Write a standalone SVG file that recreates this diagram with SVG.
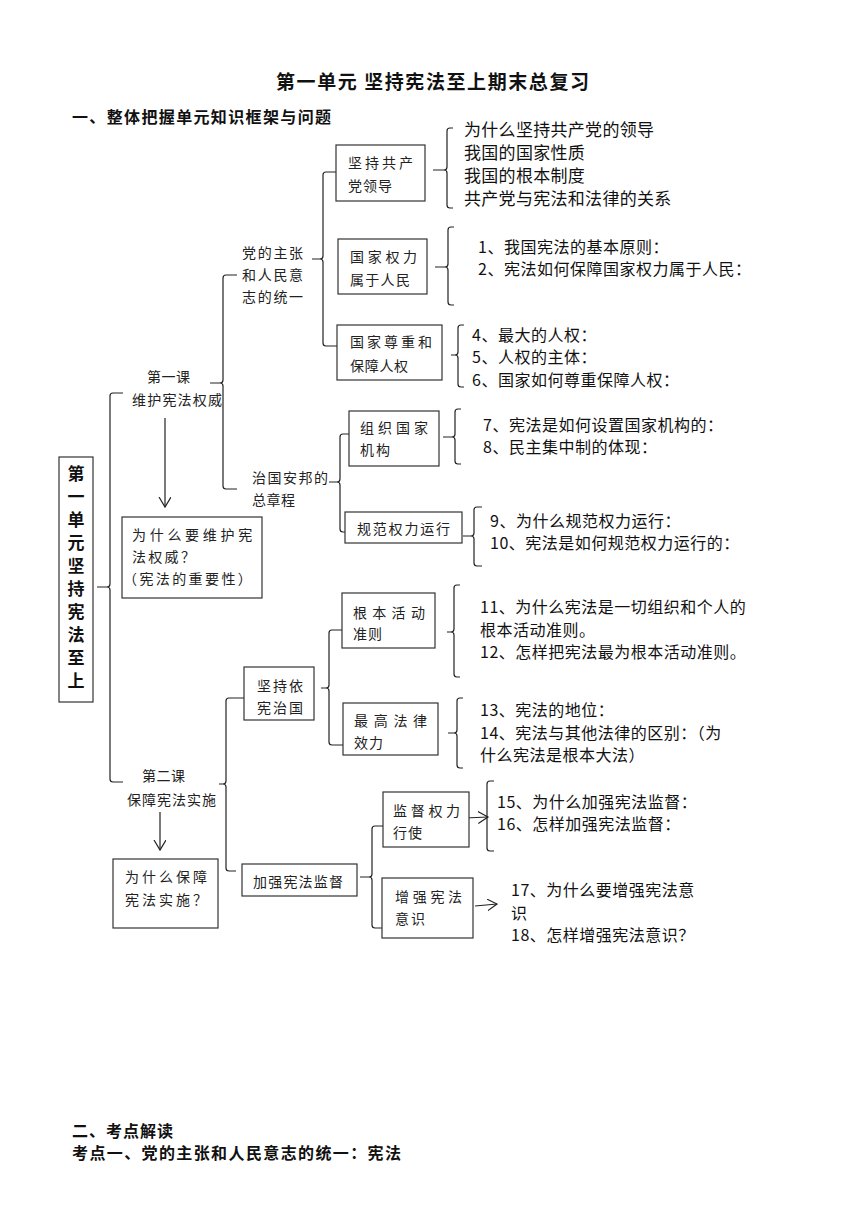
<svg xmlns="http://www.w3.org/2000/svg" width="860" height="1216" viewBox="0 0 860 1216">
<defs>
<style>
text{font-family:"Noto Sans CJK SC","Noto Sans",sans-serif;fill:#111;}
.h{font-weight:bold;font-size:16px;}
.t{font-weight:bold;font-size:19px;}
.v{font-weight:bold;font-size:17px;}
.b{font-size:14px;fill:#222;}
.l{font-size:16px;letter-spacing:0.5px;}
.l17{font-size:17px;}
.box{fill:#fff;stroke:#333;stroke-width:1.2;}
.br{fill:none;stroke:#222;stroke-width:1.2;}
.ar{fill:none;stroke:#222;stroke-width:1.2;}
</style>
<marker id="arr" markerUnits="userSpaceOnUse" markerWidth="14" markerHeight="14" refX="10" refY="6" orient="auto">
<path d="M0,0 L10,6 L0,12" fill="none" stroke="#222" stroke-width="1.2"/>
</marker>
</defs>
<rect width="860" height="1216" fill="#fff"/>

<text class="t" x="276" y="89" textLength="313">第一单元 坚持宪法至上期末总复习</text>
<text class="h" x="72" y="123" textLength="259">一、整体把握单元知识框架与问题</text>

<g id="connectors">
<path class="br" d="M123,393 H113 Q110,393 110,396 V584 Q110,587 107,587 H97 M107,587 Q110,587 110,590 V779 Q110,782 113,782 H123"/>
<path class="br" d="M237,275 H226 Q223,275 223,278 V380 Q223,383 220,383 H210 M220,383 Q223,383 223,386 V486 Q223,489 226,489 H237"/>
<path class="br" d="M336,172 H326 Q323,172 323,175 V256 Q323,259 320,259 H312 M320,259 Q323,259 323,262 V343 Q323,346 326,346 H337"/>
<path class="br" d="M349,434 H343 Q340,434 340,437 V479 Q340,482 337,482 H329 M337,482 Q340,482 340,485 V529 Q340,532 343,532 H345"/>
<path class="br" d="M244,698 H229 Q226,698 226,701 V781 Q226,784 223,784 H219 M223,784 Q226,784 226,787 V868 Q226,871 229,871 H236"/>
<path class="br" d="M342,630 H332 Q329,630 329,633 V685 Q329,688 326,688 H321 M326,688 Q329,688 329,691 V742 Q329,745 332,745 H343"/>
<path class="br" d="M383,826 H375 Q372,826 372,829 V874 Q372,877 369,877 H360 M369,877 Q372,877 372,880 V925 Q372,928 375,928 H382"/>
<path class="br" d="M453,128 H450 Q447,128 447,131 V167 Q447,170 444,170 H433 M444,170 Q447,170 447,173 V205 Q447,208 450,208 H453"/>
<path class="br" d="M454,227 H451 Q448,227 448,230 V264 Q448,267 445,267 H435 M445,267 Q448,267 448,270 V302 Q448,305 451,305 H454"/>
<path class="br" d="M464,325 H461 Q458,325 458,328 V352 Q458,355 455,355 H451 M455,355 Q458,355 458,358 V384 Q458,387 461,387 H464"/>
<path class="br" d="M461,409 H458 Q455,409 455,412 V434 Q455,437 452,437 H443 M452,437 Q455,437 455,440 V461 Q455,464 458,464 H461"/>
<path class="br" d="M482,507 H477 Q474,507 474,510 V533 Q474,536 471,536 H463 M471,536 Q474,536 474,539 V563 Q474,566 477,566 H482"/>
<path class="br" d="M460,585 H457 Q454,585 454,588 V629 Q454,632 451,632 H447 M451,632 Q454,632 454,635 V674 Q454,677 457,677 H460"/>
<path class="br" d="M463,698 H460 Q457,698 457,701 V730 Q457,733 454,733 H448 M454,733 Q457,733 457,736 V765 Q457,768 460,768 H463"/>
<path class="br" d="M494,781 H490 Q487,781 487,784 V848 Q487,851 490,851 H494"/>
<line class="ar" x1="165" y1="418" x2="165" y2="507" marker-end="url(#arr)"/>
<line class="ar" x1="160" y1="812" x2="160" y2="850" marker-end="url(#arr)"/>
<line class="ar" x1="465" y1="818" x2="488" y2="817" marker-end="url(#arr)"/>
<line class="ar" x1="475" y1="906" x2="497" y2="904" marker-end="url(#arr)"/>
</g>

<g id="n-main">
<rect class="box" x="59" y="457" width="34" height="245"/>
<text class="v" text-anchor="middle"><tspan x="76" y="480">第</tspan><tspan x="76" y="503">一</tspan><tspan x="76" y="526">单</tspan><tspan x="76" y="549">元</tspan><tspan x="76" y="572">坚</tspan><tspan x="76" y="595">持</tspan><tspan x="76" y="618">宪</tspan><tspan x="76" y="641">法</tspan><tspan x="76" y="664">至</tspan><tspan x="76" y="687">上</tspan></text>
</g>

<g id="n-lesson1">
<text class="b" x="147" y="382" letter-spacing="0.5">第一课</text>
<text class="b" x="132" y="405" letter-spacing="1.2">维护宪法权威</text>
</g>
<g id="n-why1">
<rect class="box" x="122" y="517" width="140" height="81"/>
<text class="b" x="132" y="540" letter-spacing="3.7">为什么要维护宪</text>
<text class="b" x="132" y="562" letter-spacing="2.3">法权威？</text>
<text class="b" x="123" y="584" letter-spacing="2.4">（宪法的重要性）</text>
</g>
<g id="n-dzz">
<text class="b" x="242" y="258" letter-spacing="1.7">党的主张</text>
<text class="b" x="242" y="280" letter-spacing="1.7">和人民意</text>
<text class="b" x="242" y="302" letter-spacing="1.7">志的统一</text>
</g>
<g id="n-zgab">
<text class="b" x="252" y="483" letter-spacing="1.5">治国安邦的</text>
<text class="b" x="252" y="505" letter-spacing="0.5">总章程</text>
</g>
<g id="n-jcgcd">
<rect class="box" x="336" y="145" width="89" height="56"/>
<text class="b" x="348" y="168" letter-spacing="3">坚持共产</text>
<text class="b" x="348" y="191" letter-spacing="1">党领导</text>
</g>
<g id="n-gjql">
<rect class="box" x="338" y="239" width="89" height="55"/>
<text class="b" x="350" y="262" letter-spacing="3.7">国家权力</text>
<text class="b" x="350" y="285" letter-spacing="1.3">属于人民</text>
</g>
<g id="n-gjzz">
<rect class="box" x="337" y="325" width="105" height="55"/>
<text class="b" x="350" y="347" letter-spacing="3">国家尊重和</text>
<text class="b" x="350" y="371" letter-spacing="0.7">保障人权</text>
</g>
<g id="n-zzgj">
<rect class="box" x="349" y="411" width="90" height="55"/>
<text class="b" x="360" y="433" letter-spacing="4">组织国家</text>
<text class="b" x="360" y="455" letter-spacing="2">机构</text>
</g>
<g id="n-gfql">
<rect class="box" x="345" y="512" width="117" height="31"/>
<text class="b" x="357" y="534" letter-spacing="1.8">规范权力运行</text>
</g>
<g id="n-list1">
<text class="l17" x="464" y="136" letter-spacing="0.3">为什么坚持共产党的领导</text>
<text class="l17" x="464" y="159" letter-spacing="0.3">我国的国家性质</text>
<text class="l17" x="464" y="182" letter-spacing="0.3">我国的根本制度</text>
<text class="l17" x="464" y="205" letter-spacing="0.3">共产党与宪法和法律的关系</text>
</g>
<g id="n-list2">
<text class="l" x="478" y="253">1、我国宪法的基本原则：</text>
<text class="l" x="478" y="275">2、宪法如何保障国家权力属于人民：</text>
</g>
<g id="n-list3">
<text class="l" x="472" y="341">4、最大的人权：</text>
<text class="l" x="472" y="363">5、人权的主体：</text>
<text class="l" x="472" y="386">6、国家如何尊重保障人权：</text>
</g>
<g id="n-list4">
<text class="l" x="483" y="431">7、宪法是如何设置国家机构的：</text>
<text class="l" x="483" y="453">8、民主集中制的体现：</text>
</g>
<g id="n-list5">
<text class="l" x="490" y="527">9、为什么规范权力运行：</text>
<text class="l" x="490" y="549" letter-spacing="1.3">10、宪法是如何规范权力运行的：</text>
</g>

<g id="n-lesson2">
<text class="b" x="142" y="781" letter-spacing="0.5">第二课</text>
<text class="b" x="127" y="805" letter-spacing="1">保障宪法实施</text>
</g>
<g id="n-why2">
<rect class="box" x="113" y="859" width="105" height="69"/>
<text class="b" x="125" y="882" letter-spacing="3">为什么保障</text>
<text class="b" x="125" y="905" letter-spacing="3">宪法实施？</text>
</g>
<g id="n-jcyx">
<rect class="box" x="244" y="667" width="70" height="53"/>
<text class="b" x="257" y="691" letter-spacing="2">坚持依</text>
<text class="b" x="257" y="713" letter-spacing="2">宪治国</text>
</g>
<g id="n-jqjd">
<rect class="box" x="242" y="864" width="115" height="32"/>
<text class="b" x="253" y="887" letter-spacing="1.2">加强宪法监督</text>
</g>
<g id="n-gbhd">
<rect class="box" x="342" y="593" width="93" height="55"/>
<text class="b" x="353" y="618" letter-spacing="5.3">根本活动</text>
<text class="b" x="353" y="639" letter-spacing="1">准则</text>
</g>
<g id="n-zgfl">
<rect class="box" x="343" y="703" width="95" height="52"/>
<text class="b" x="354" y="726" letter-spacing="5.7">最高法律</text>
<text class="b" x="354" y="748" letter-spacing="1">效力</text>
</g>
<g id="n-jdql">
<rect class="box" x="383" y="792" width="86" height="55"/>
<text class="b" x="393" y="816" letter-spacing="3.7">监督权力</text>
<text class="b" x="393" y="838" letter-spacing="1">行使</text>
</g>
<g id="n-zqxf">
<rect class="box" x="382" y="878" width="91" height="60"/>
<text class="b" x="395" y="902" letter-spacing="3.7">增强宪法</text>
<text class="b" x="395" y="924" letter-spacing="2">意识</text>
</g>
<g id="n-list6">
<text class="l" x="480" y="613" letter-spacing="0">11、为什么宪法是一切组织和个人的</text>
<text class="l" x="480" y="636" letter-spacing="0">根本活动准则。</text>
<text class="l" x="480" y="658" letter-spacing="0">12、怎样把宪法最为根本活动准则。</text>
</g>
<g id="n-list7">
<text class="l" x="480" y="716">13、宪法的地位：</text>
<text class="l" x="480" y="739" letter-spacing="1">14、宪法与其他法律的区别：（为</text>
<text class="l" x="480" y="761">什么宪法是根本大法）</text>
</g>
<g id="n-list8">
<text class="l" x="497" y="808" letter-spacing="0">15、为什么加强宪法监督：</text>
<text class="l" x="497" y="830" letter-spacing="0">16、怎样加强宪法监督：</text>
</g>
<g id="n-list9">
<text class="l" x="511" y="896" letter-spacing="0.8">17、为什么要增强宪法意</text>
<text class="l" x="511" y="919">识</text>
<text class="l" x="511" y="941">18、怎样增强宪法意识？</text>
</g>

<text class="h" x="72" y="1137" letter-spacing="1">二、考点解读</text>
<text class="h" x="72" y="1159" textLength="329">考点一、党的主张和人民意志的统一：宪法</text>
</svg>
